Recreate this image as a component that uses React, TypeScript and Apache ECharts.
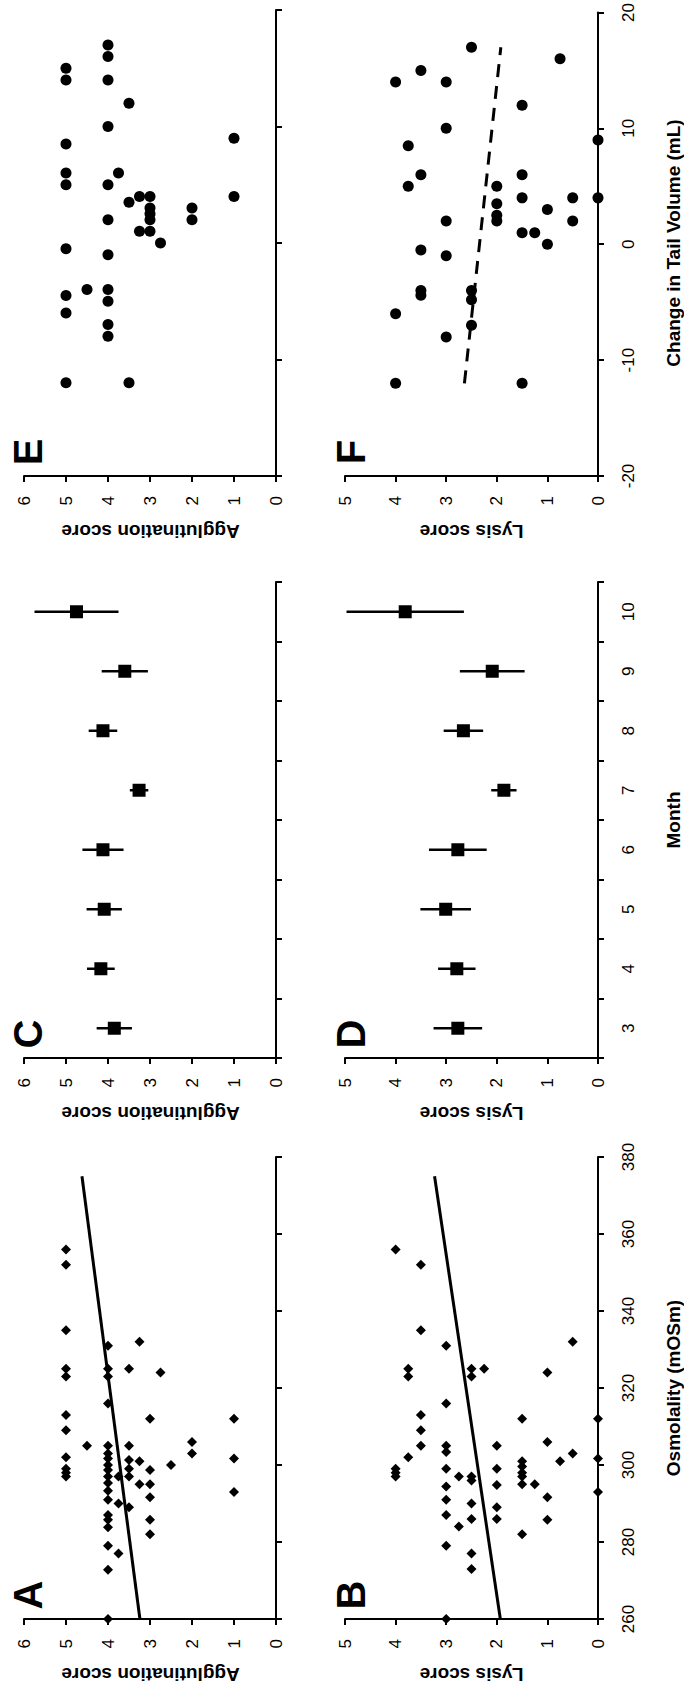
import React, { useEffect, useRef } from "react";
import * as echarts from "echarts";

// ---------- DATA ----------
// Panel A: osmolality (mOSm) vs agglutination score
const osmA = [356, 352, 335, 331, 332, 325, 323, 325, 323, 325, 324, 316, 313, 312, 312, 309, 305, 305, 305, 306,
  302, 299, 298, 297, 303, 301.7, 300, 298.7, 297, 295.3, 293.3, 291, 287, 285.8, 283.8, 279, 272.8, 260,
  297, 290, 277, 301.3, 299, 297, 289, 301, 295, 298.7, 295, 291.6, 285.8, 282, 300, 303, 301.7, 293];
const agglutA = [5, 5, 5, 4, 3.25, 5, 5, 4, 4, 3.5, 2.75, 4, 5, 3, 1, 5, 4.5, 4, 3.5, 2,
  5, 5, 5, 5, 4, 4, 4, 4, 4, 4, 4, 4, 4, 4, 4, 4, 4, 4,
  3.75, 3.75, 3.75, 3.5, 3.5, 3.5, 3.5, 3.25, 3.25, 3, 3, 3, 3, 3, 2.5, 2, 1, 1];
const trendOsmA = [260, 375];
const trendAgglutA = [3.24, 4.62];

// Panel B: osmolality vs lysis score
const osmB = [356, 352, 335, 331, 332, 325, 323, 325, 323, 325, 324, 316, 313, 312, 312, 309, 305, 305, 305, 306,
  302, 299, 298, 297, 303.4, 299, 294.4, 291, 287, 279, 297, 296, 290, 286, 277, 273, 297, 284,
  299, 294.8, 289, 286, 301, 299.6, 298, 297, 295, 282, 295, 291.6, 285.8, 301, 303, 301.7, 293, 260];
const lysisB = [4, 3.5, 3.5, 3, 0.5, 3.75, 3.75, 2.5, 2.5, 2.25, 1, 3, 3.5, 1.5, 0, 3.5, 3.5, 3, 2, 1,
  3.75, 4, 4, 4, 3, 3, 3, 3, 3, 3, 2.5, 2.5, 2.5, 2.5, 2.5, 2.5, 2.75, 2.75,
  2, 2, 2, 2, 1.5, 1.5, 1.5, 1.5, 1.5, 1.5, 1.25, 1, 1, 0.75, 0.5, 0, 0, 3];
const trendOsmB = [260, 375];
const trendLysisB = [1.93, 3.23];

// Panels C & D: month means with error bars
const months = ["3", "4", "5", "6", "7", "8", "9", "10"];
const agglutMean = [3.85, 4.17, 4.09, 4.12, 3.26, 4.12, 3.6, 4.75];
const agglutErr = [0.42, 0.33, 0.42, 0.49, 0.22, 0.34, 0.55, 1.0];
const lysisMean = [2.77, 2.79, 3.01, 2.77, 1.86, 2.66, 2.09, 3.81];
const lysisErr = [0.48, 0.37, 0.5, 0.57, 0.25, 0.39, 0.64, 1.16];

// Panel E: change in tail volume (mL) vs agglutination score
const volE = [17, 16, 15, 14, 14, 12, 10, 8.5, 9, 6, 6, 5, 5, 4, 4, 4, 3.5, 3, 2.5, 2, 3, 2, 2, 1, 1, 0,
  -0.5, -1, -4, -4.5, -4, -5, -6, -7, -8, -12, -12];
const agglutE = [4, 4, 5, 5, 4, 3.5, 4, 5, 1, 5, 3.75, 5, 4, 3.25, 3, 1, 3.5, 3, 3, 3, 2, 2, 4, 3.25, 3, 2.75,
  5, 4, 4.5, 5, 4, 4, 5, 4, 4, 5, 3.5];

// Panel F: change in tail volume vs lysis score
const volF = [17, 16, 15, 14, 14, 12, 10, 8.5, 9, 6, 6, 5, 5, 4, 4, 4, 3.5, 3, 2.5, 2, 2, 2, 1, 1, 0,
  -0.5, -1, -4, -4.4, -4, -4.8, -6, -7, -8, -12, -12];
const lysisF = [2.5, 0.75, 3.5, 4, 3, 1.5, 3, 3.75, 0, 3.5, 1.5, 3.75, 2, 1.5, 0.5, 0, 2, 1, 2, 3, 2, 0.5, 1.5, 1.25, 1,
  3.5, 3, 3.5, 3.5, 2.5, 2.5, 4, 2.5, 3, 4, 1.5];
const trendVolF = [-12, 17];
const trendLysisF = [2.64, 1.92];

// ---------- LAYOUT ----------
const FONT = '"Liberation Sans", Arial, sans-serif';
const LEFT_X = 24, RIGHT_X = 345, PANEL_W = 253;
const strips = [
  { top: 1157, height: 462 }, // A/B
  { top: 582, height: 476 },  // C/D
  { top: 10, height: 466 },   // E/F
];

function scoreAxis(gridIndex: number, max: number) {
  return {
    type: "value", gridIndex, min: 0, max, interval: 1, inverse: true, position: "bottom",
    axisLine: { show: true, onZero: false, lineStyle: { color: "#000", width: 2 } },
    axisTick: { show: true, inside: false, length: 6, lineStyle: { color: "#000", width: 2 } },
    axisLabel: { rotate: 90, margin: 20, fontSize: 17, fontFamily: FONT, color: "#000" },
    splitLine: { show: false },
  };
}

function valueYAxis(gridIndex: number, min: number, max: number, interval: number, labels: boolean) {
  return {
    type: "value", gridIndex, min, max, interval, position: "right",
    axisLine: { show: true, onZero: false, lineStyle: { color: "#000", width: 2 } },
    axisTick: { show: true, inside: false, length: 6, lineStyle: { color: "#000", width: 2 } },
    axisLabel: { show: labels, rotate: 90, margin: 22, fontSize: 17, fontFamily: FONT, color: "#000" },
    splitLine: { show: false },
  };
}

function monthYAxis(gridIndex: number, labels: boolean) {
  return {
    type: "category", gridIndex, data: months, position: "right", boundaryGap: true,
    axisLine: { show: true, onZero: false, lineStyle: { color: "#000", width: 2 } },
    axisTick: { show: true, inside: false, length: 6, alignWithLabel: false, lineStyle: { color: "#000", width: 2 } },
    axisLabel: { show: labels, rotate: 90, margin: 22, fontSize: 17, fontFamily: FONT, color: "#000", interval: 0 },
    splitLine: { show: false },
  };
}

function zip(xs: number[], ys: number[]) {
  return xs.map((x, i) => [ys[i], x]);
}

function scatter(idx: number, xs: number[], ys: number[], symbol: string, size: any) {
  return {
    type: "scatter", xAxisIndex: idx, yAxisIndex: idx, data: zip(xs, ys), symbol, symbolSize: size,
    itemStyle: { color: "#000", opacity: 1 }, clip: false, z: 3,
  };
}

function trend(idx: number, xs: number[], ys: number[], dashed: boolean) {
  return {
    type: "line", xAxisIndex: idx, yAxisIndex: idx, data: zip(xs, ys), showSymbol: false, symbol: "none",
    lineStyle: { color: "#000", width: 3, type: dashed ? [13, 9] : "solid", opacity: 1 }, z: 2,
  };
}

function errorBars(idx: number, mean: number[], err: number[]) {
  return {
    type: "custom", xAxisIndex: idx, yAxisIndex: idx,
    data: mean.map((m, i) => [m - err[i], m + err[i], i]),
    encode: { x: [0, 1], y: 2 },
    renderItem: (params: any, api: any) => {
      const p1 = api.coord([api.value(0), api.value(2)]);
      const p2 = api.coord([api.value(1), api.value(2)]);
      return {
        type: "line",
        shape: { x1: p1[0], y1: p1[1], x2: p2[0], y2: p2[1] },
        style: { stroke: "#000", lineWidth: 2.5 },
      };
    },
    clip: false, z: 2,
  };
}

function meanSquares(idx: number, mean: number[]) {
  return {
    type: "scatter", xAxisIndex: idx, yAxisIndex: idx,
    data: mean.map((m, i) => [m, i]), symbol: "rect", symbolSize: 13,
    itemStyle: { color: "#000", opacity: 1 }, clip: false, z: 3,
  };
}

function txt(text: string, x: number, y: number, rotation: number, font: string) {
  return {
    type: "text", x, y, rotation,
    style: { text, font, fill: "#000", textAlign: "center", textVerticalAlign: "middle", align: "center", verticalAlign: "middle" },
  };
}

export default function App() {
  const ref = useRef<HTMLDivElement>(null);
  useEffect(() => {
    document.body.style.margin = "0";
    if (!ref.current) return;
    const chart = echarts.init(ref.current, null, { renderer: "svg" });
    const grids: any[] = [];
    strips.forEach((s) => {
      grids.push({ left: LEFT_X, top: s.top, width: PANEL_W - 1, height: s.height });
      grids.push({ left: RIGHT_X, top: s.top, width: PANEL_W, height: s.height });
    });
    // grid order: 0 A, 1 B, 2 C, 3 D, 4 E, 5 F
    const xAxes = [scoreAxis(0, 6), scoreAxis(1, 5), scoreAxis(2, 6), scoreAxis(3, 5), scoreAxis(4, 6), scoreAxis(5, 5)];
    const yAxes = [
      valueYAxis(0, 260, 380, 20, false), valueYAxis(1, 260, 380, 20, true),
      monthYAxis(2, false), monthYAxis(3, true),
      valueYAxis(4, -20, 20, 10, false), valueYAxis(5, -20, 20, 10, true),
    ];
    const titleFont = "bold 19px " + FONT;
    const letterFont = "bold 40px " + FONT;
    const graphics: any[] = [];
    const letters = [["A", "B"], ["C", "D"], ["E", "F"]];
    strips.forEach((s, k) => {
      const axisY = s.top + s.height;
      graphics.push(txt("Agglutination score", LEFT_X + PANEL_W / 2, axisY + 55, Math.PI, titleFont));
      graphics.push(txt("Lysis score", RIGHT_X + PANEL_W / 2, axisY + 55, Math.PI, titleFont));
      graphics.push(txt(letters[k][0], 28, axisY - 24, Math.PI / 2, letterFont));
      graphics.push(txt(letters[k][1], 351, axisY - 24, Math.PI / 2, letterFont));
    });
    graphics.push(txt("Osmolality (mOSm)", 673, strips[0].top + strips[0].height / 2, Math.PI / 2, titleFont));
    graphics.push(txt("Month", 673, strips[1].top + strips[1].height / 2, Math.PI / 2, titleFont));
    graphics.push(txt("Change in Tail Volume (mL)", 673, strips[2].top + strips[2].height / 2, Math.PI / 2, titleFont));

    chart.setOption({
      animation: false,
      backgroundColor: "#fff",
      grid: grids,
      xAxis: xAxes,
      yAxis: yAxes,
      graphic: graphics,
      series: [
        trend(0, trendOsmA, trendAgglutA, false),
        scatter(0, osmA, agglutA, "diamond", 10),
        trend(1, trendOsmB, trendLysisB, false),
        scatter(1, osmB, lysisB, "diamond", 10),
        errorBars(2, agglutMean, agglutErr),
        meanSquares(2, agglutMean),
        errorBars(3, lysisMean, lysisErr),
        meanSquares(3, lysisMean),
        scatter(4, volE, agglutE, "circle", 11),
        trend(5, trendVolF, trendLysisF, true),
        scatter(5, volF, lysisF, "circle", 11),
      ],
    });
    return () => chart.dispose();
  }, []);
  return <div ref={ref} style={{ width: 684, height: 1692 }} />;
}
